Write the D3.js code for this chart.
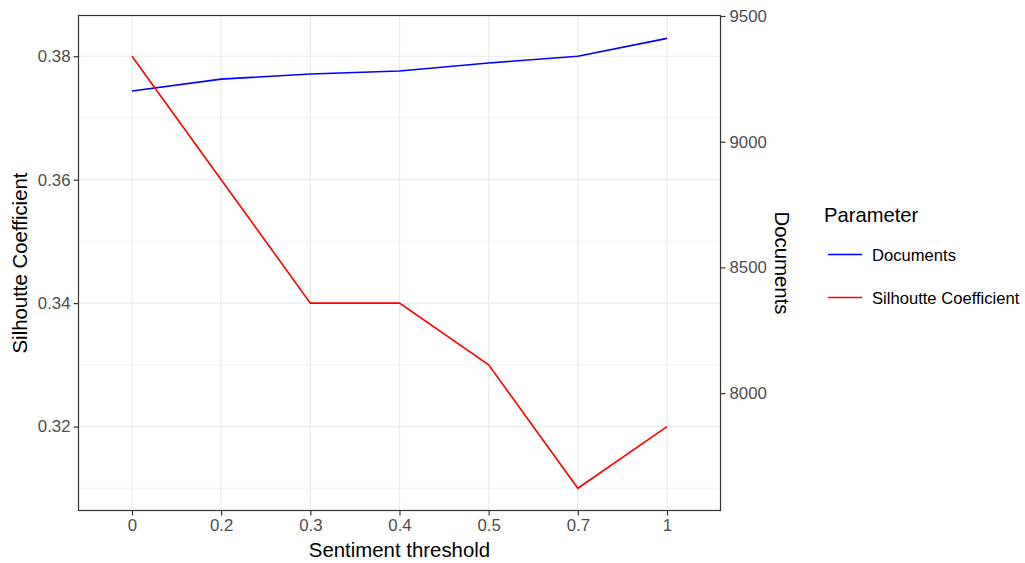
<!DOCTYPE html>
<html><head><meta charset="utf-8">
<script src="https://cdn.jsdelivr.net/npm/d3@7"></script>
<style>body{margin:0;background:#fff}svg{display:block;font-family:"Liberation Sans",Arial,sans-serif}</style>
</head><body>
<script>
const categories = ["0","0.2","0.3","0.4","0.5","0.7","1"];
const silhouette = [0.38,0.36,0.34,0.34,0.33,0.31,0.32];
const documents = [9202,9249,9269,9281,9313,9340,9411];
const leftTicks = [0.32,0.34,0.36,0.38];
const leftMinor = [0.31,0.33,0.35,0.37];
const rightTicks = [8000,8500,9000,9500];
const seriesNames = ["Documents","Silhoutte Coefficient"];
const seriesColors = ["#0000ff","#ff0000"];

const W=1025,H=563;
const m={l:78.5,r:720.5,t:15.5,b:510.5};
const svg=d3.select("body").append("svg").attr("width",W).attr("height",H);

const x=d3.scalePoint().domain(categories).range([m.l,m.r]).padding(0.6);
const yL=d3.scaleLinear().domain([0.3064,0.3866]).range([m.b,m.t]);
const yR=d3.scaleLinear().domain([7533,9502]).range([m.b,m.t]);

const g=svg.append("g");
g.selectAll(".minor").data(leftMinor).join("line")
 .attr("x1",m.l).attr("x2",m.r).attr("y1",d=>yL(d)).attr("y2",d=>yL(d))
 .attr("stroke","#ebebeb").attr("stroke-width",0.6);
g.selectAll(".major").data(leftTicks).join("line")
 .attr("x1",m.l).attr("x2",m.r).attr("y1",d=>yL(d)).attr("y2",d=>yL(d))
 .attr("stroke","#ebebeb").attr("stroke-width",1.2);
g.selectAll(".vmajor").data(categories).join("line")
 .attr("x1",d=>x(d)).attr("x2",d=>x(d)).attr("y1",m.t).attr("y2",m.b)
 .attr("stroke","#ebebeb").attr("stroke-width",1.2);

const lineL=d3.line().x((d,i)=>x(categories[i])).y(d=>yL(d));
const lineR=d3.line().x((d,i)=>x(categories[i])).y(d=>yR(d));
svg.append("path").datum(documents).attr("d",lineR).attr("fill","none").attr("stroke",seriesColors[0]).attr("stroke-width",1.6);
svg.append("path").datum(silhouette).attr("d",lineL).attr("fill","none").attr("stroke",seriesColors[1]).attr("stroke-width",1.6);

svg.append("rect").attr("x",m.l).attr("y",m.t).attr("width",m.r-m.l).attr("height",m.b-m.t)
 .attr("fill","none").attr("stroke","#333333").attr("stroke-width",1.2);

function styleAxis(sel){
  sel.select(".domain").remove();
  sel.selectAll(".tick line").attr("stroke","#333333").attr("stroke-width",1.2);
  sel.selectAll(".tick text").attr("fill","#4d4d4d").style("font-size","16.8px").style("font-family","Liberation Sans, Arial, sans-serif");
}
svg.append("g").attr("transform",`translate(0,${m.b})`)
 .call(d3.axisBottom(x).tickSize(5).tickPadding(4)).call(styleAxis);
svg.append("g").attr("transform",`translate(${m.l},0)`)
 .call(d3.axisLeft(yL).tickValues(leftTicks).tickFormat(d3.format(".2f")).tickSize(5).tickPadding(3)).call(styleAxis);
svg.append("g").attr("transform",`translate(${m.r},0)`)
 .call(d3.axisRight(yR).tickValues(rightTicks).tickFormat(d3.format("d")).tickSize(5).tickPadding(4)).call(styleAxis);

svg.append("text").attr("x",(m.l+m.r)/2).attr("y",557).attr("text-anchor","middle")
 .style("font-size","20.4px").text("Sentiment threshold");
svg.append("text").attr("transform",`translate(27,${(m.t+m.b)/2}) rotate(-90)`).attr("text-anchor","middle")
 .style("font-size","20.4px").text("Silhoutte Coefficient");
svg.append("text").attr("transform",`translate(775,${(m.t+m.b)/2}) rotate(90)`).attr("text-anchor","middle")
 .style("font-size","20.4px").text("Documents");

const lg=svg.append("g");
lg.append("text").attr("x",824).attr("y",222).style("font-size","20.2px").text("Parameter");
seriesNames.forEach((n,i)=>{
  const yy=254.5+i*43;
  lg.append("line").attr("x1",828).attr("x2",862).attr("y1",yy).attr("y2",yy)
    .attr("stroke",seriesColors[i]).attr("stroke-width",1.6);
  lg.append("text").attr("x",872).attr("y",yy+6.5).style("font-size","16.6px").text(n);
});
</script>
</body></html>
